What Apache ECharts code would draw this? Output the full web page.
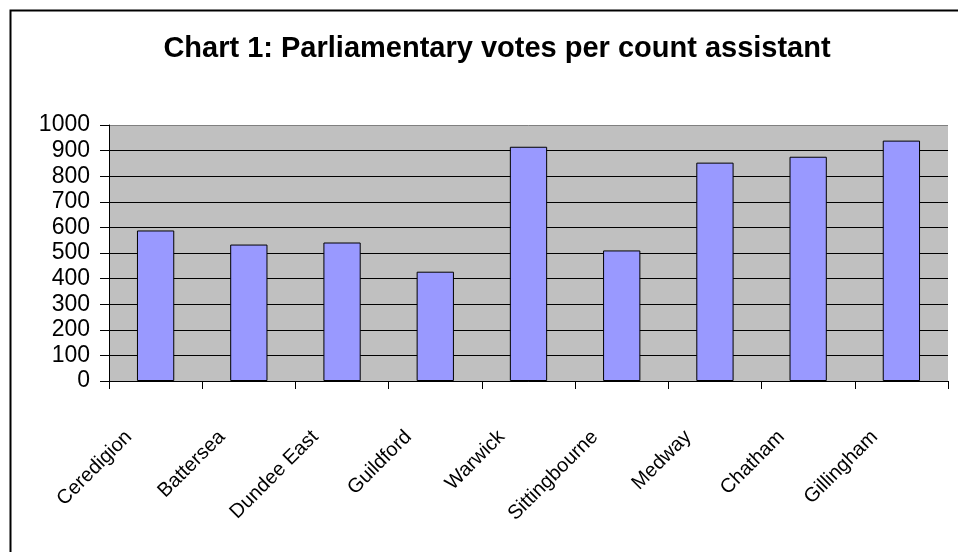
<!DOCTYPE html>
<html>
<head>
<meta charset="utf-8">
<style>html,body{margin:0;padding:0;background:#fff;}#c{width:958px;height:552px;}</style>
<script src="https://cdn.jsdelivr.net/npm/echarts@6/dist/echarts.min.js"></script>
</head>
<body>
<div id="c"></div>
<script>
const categories = ['Ceredigion','Battersea','Dundee East','Guildford','Warwick','Sittingbourne','Medway','Chatham','Gillingham'];
const votesPerAssistant = [588, 533, 541, 427, 915, 510, 853, 876, 939];
const yTicks = {min: 0, max: 1000, interval: 100};
const titleText = 'Chart 1: Parliamentary votes per count assistant';

const gridColors = ['#000','#000','#000','#000','#000','#000','#000','#000','#000','#000','#808080'];

const chart = echarts.init(document.getElementById('c'), null, {renderer: 'canvas'});
chart.setOption({
  animation: false,
  backgroundColor: '#ffffff',
  title: {
    text: titleText,
    left: 492, top: 29, textAlign: 'center',
    textStyle: {fontFamily: 'Arial, Liberation Sans, sans-serif', fontWeight: 'bold', fontSize: 29, color: '#000'}
  },
  graphic: [{
    type: 'rect', left: 8, top: 8, z: 100,
    shape: {x: 0, y: 0, width: 1000, height: 600},
    style: {fill: 'none', stroke: '#000', lineWidth: 2}
  }],
  grid: {left: 109, right: 10, top: 125, bottom: 171, backgroundColor: '#C0C0C0', show: true, borderWidth: 0},
  xAxis: {
    type: 'category', data: categories,
    axisLine: {lineStyle: {color: '#000', width: 1}},
    axisTick: {show: true, length: 8, lineStyle: {color: '#000'}},
    axisLabel: {rotate: 45, margin: 26, padding: [0, 38, 0, 0], fontFamily: 'Arial, Liberation Sans, sans-serif', fontSize: 20, color: '#000', interval: 0}
  },
  yAxis: {
    type: 'value', min: yTicks.min, max: yTicks.max, interval: yTicks.interval,
    axisLine: {show: true, lineStyle: {color: '#000', width: 1}},
    axisTick: {show: true, length: 9, lineStyle: {color: '#000'}},
    axisLabel: {margin: 19, fontFamily: 'Arial, Liberation Sans, sans-serif', fontSize: 23, color: '#000', formatter: function (v) { return String(v); }},
    splitLine: {show: true, lineStyle: {color: gridColors, width: 1}}
  },
  series: [{
    type: 'bar', data: votesPerAssistant, barWidth: '40%',
    itemStyle: {color: '#9999FF', borderColor: '#000', borderWidth: 1}
  }]
});
</script>
</body>
</html>
